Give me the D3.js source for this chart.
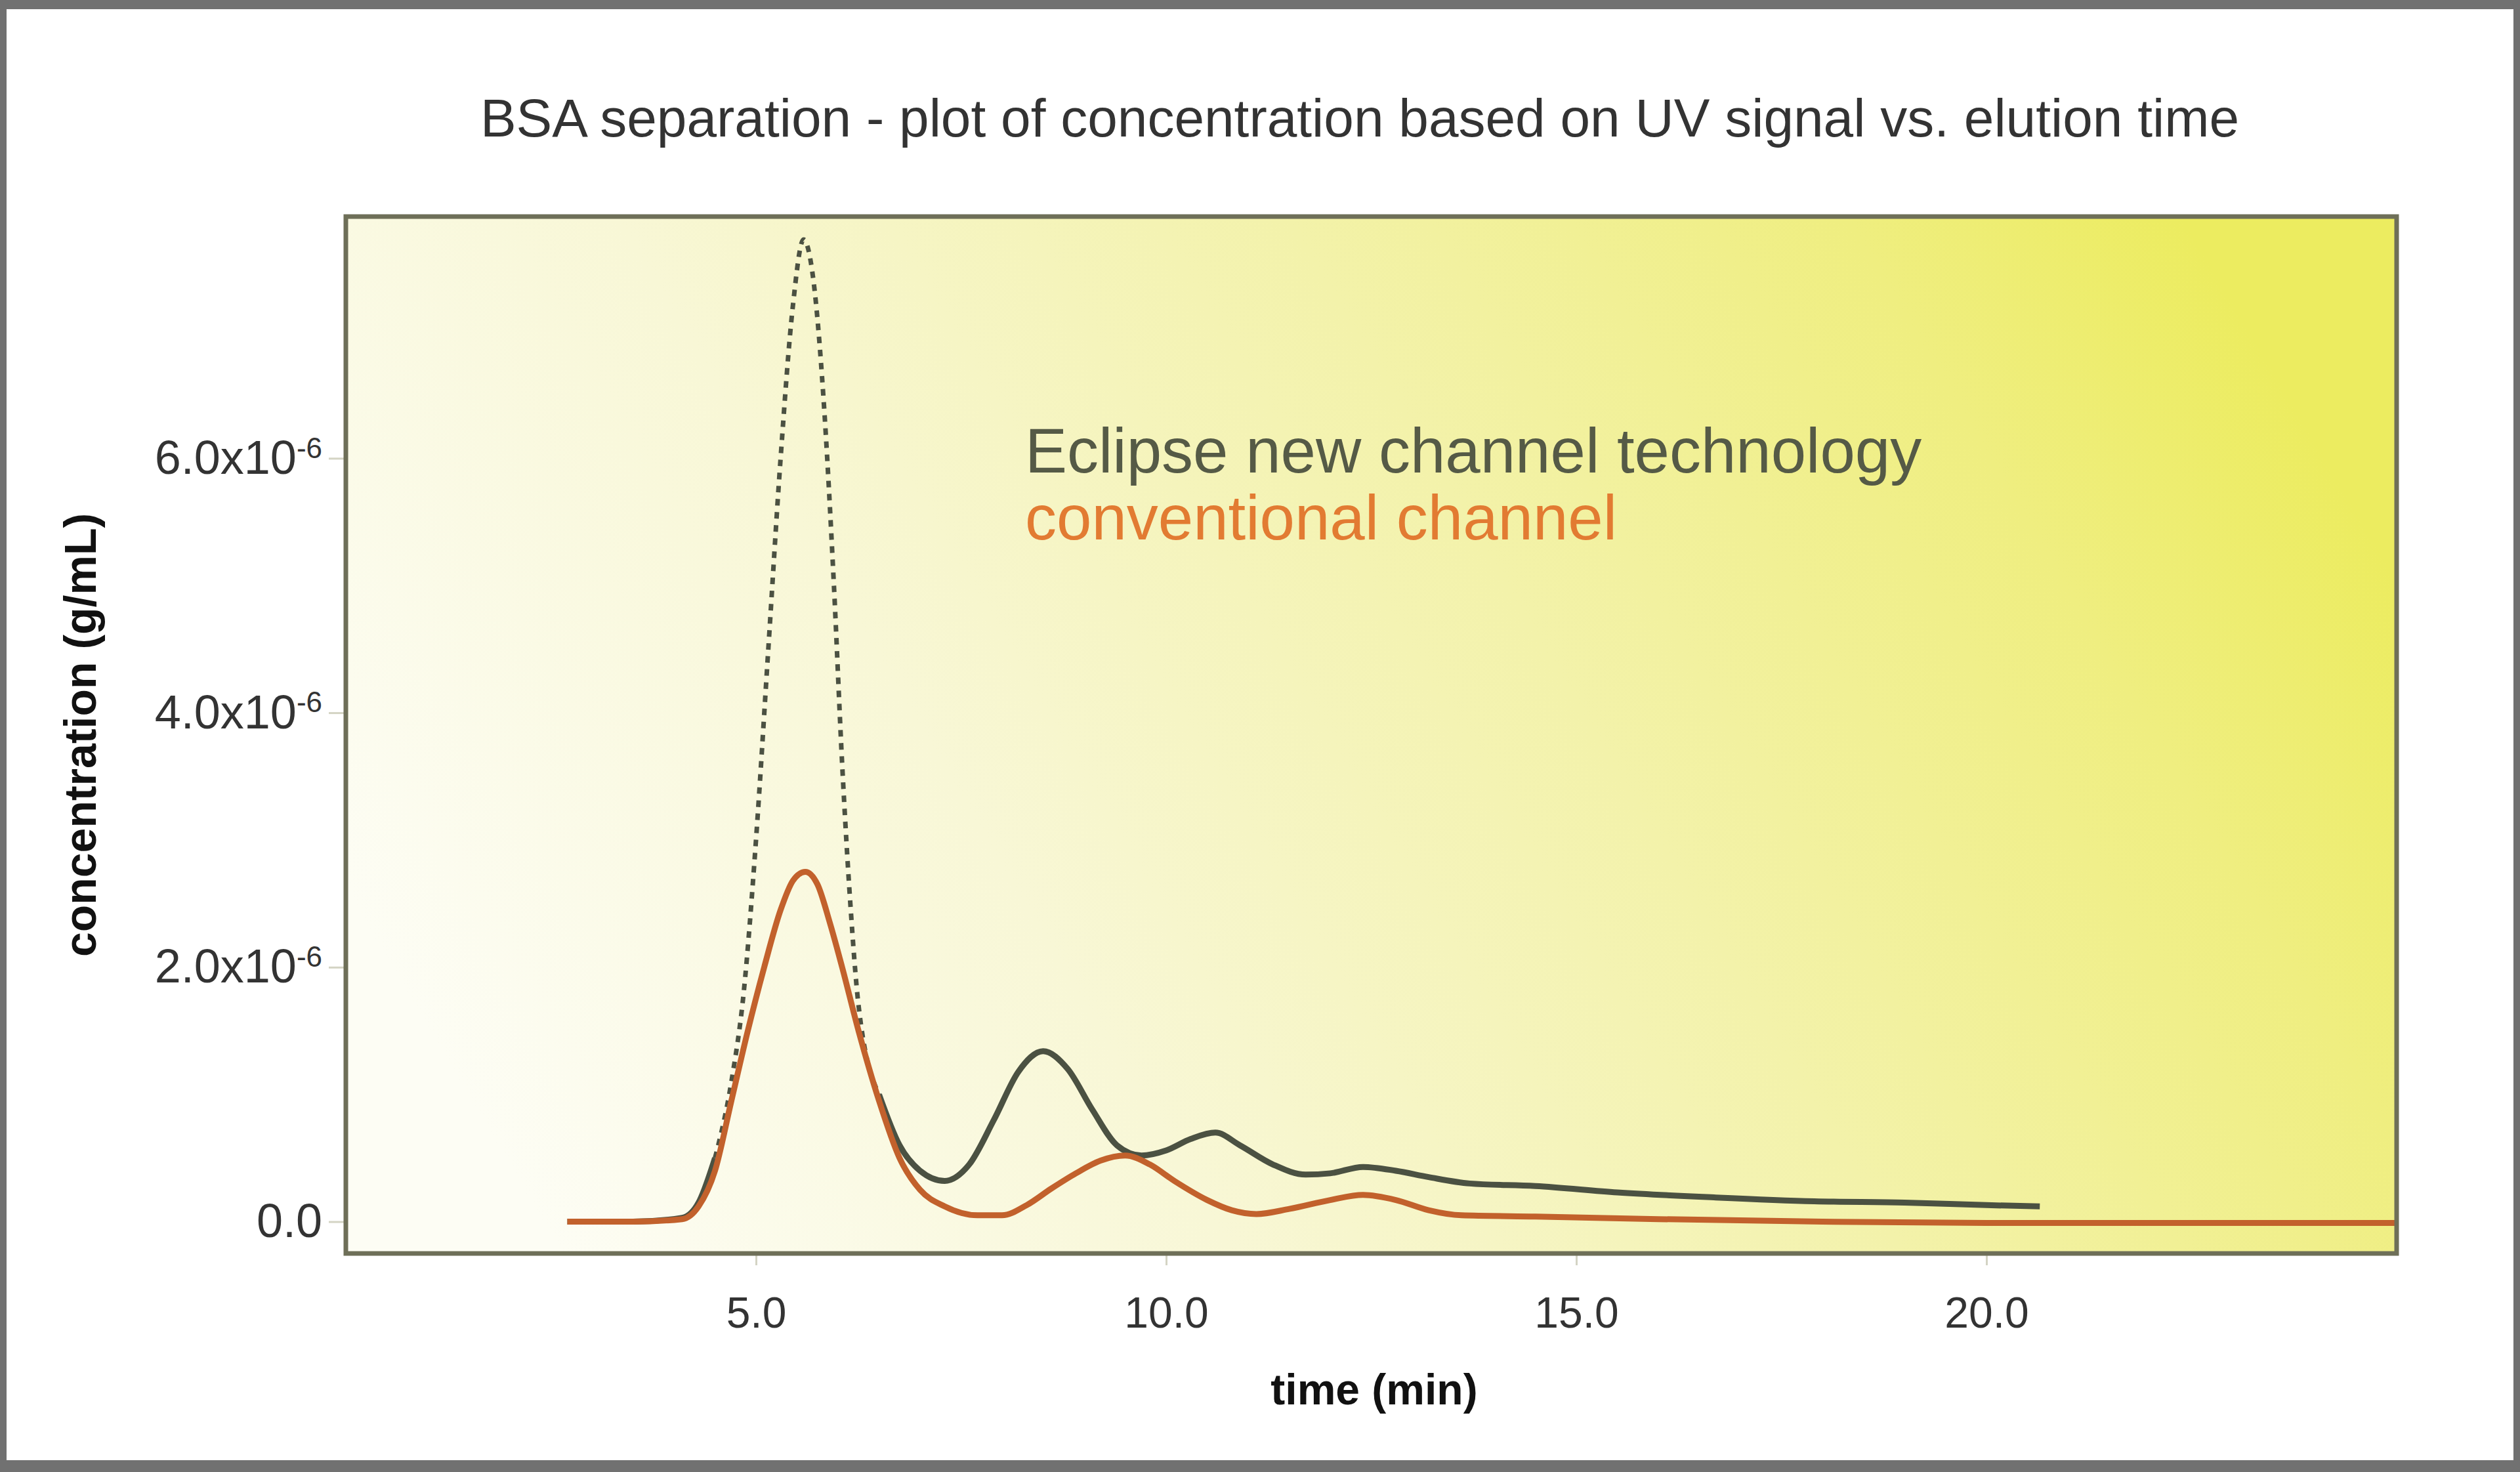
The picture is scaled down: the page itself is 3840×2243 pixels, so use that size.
<!DOCTYPE html>
<html>
<head>
<meta charset="utf-8">
<script src="https://cdnjs.cloudflare.com/ajax/libs/d3/7.8.5/d3.min.js"></script>
<style>
  html, body { margin: 0; padding: 0; background: #fff; }
  #chartCont { width: 3840px; height: 2243px; }
  text { font-family: "Liberation Sans", Arial, sans-serif; }
</style>
</head>
<body>
<div id="chartCont"></div>
<script>
// elution time (min) and concentration (g/mL)
let eclipseTime = [2.7, 3.5, 4.1, 4.3, 4.5, 4.7, 4.85, 5.0, 5.15, 5.3, 5.45, 5.58, 5.7, 5.82, 5.95, 6.05, 6.15, 6.25,
  6.5, 6.75, 7.0, 7.3, 7.6, 7.9, 8.2, 8.5, 8.8, 9.1, 9.4, 9.7, 10.0, 10.3, 10.6, 10.9, 11.3, 11.7, 12.0, 12.4,
  12.8, 13.2, 13.7, 14.5, 15.5, 16.7, 17.9, 19.0, 20.0, 20.65];
let eclipseConc = [0, 0, 0.03e-6, 0.15e-6, 0.5e-6, 1.1e-6, 1.8e-6, 3.0e-6, 4.5e-6, 6.0e-6, 7.2e-6, 7.72e-6, 7.4e-6, 6.5e-6, 5.0e-6, 3.6e-6, 2.5e-6, 1.7e-6,
  1.0e-6, 0.6e-6, 0.4e-6, 0.32e-6, 0.45e-6, 0.8e-6, 1.18e-6, 1.34e-6, 1.2e-6, 0.88e-6, 0.6e-6, 0.52e-6, 0.56e-6, 0.65e-6, 0.7e-6, 0.6e-6, 0.45e-6, 0.37e-6, 0.38e-6, 0.43e-6,
  0.4e-6, 0.35e-6, 0.3e-6, 0.28e-6, 0.23e-6, 0.19e-6, 0.16e-6, 0.15e-6, 0.13e-6, 0.12e-6];

let convTime = [2.7, 3.5, 4.1, 4.3, 4.5, 4.7, 4.9, 5.1, 5.3, 5.45, 5.6, 5.75, 5.9, 6.05, 6.25, 6.5, 6.75, 7.0, 7.3,
  7.7, 8.0, 8.3, 8.6, 8.9, 9.2, 9.5, 9.8, 10.1, 10.5, 10.8, 11.1, 11.5, 12.0, 12.4, 12.8, 13.2, 13.6, 14.5,
  16.0, 18.0, 20.0, 22.0, 25.0];
let convConc = [0, 0, 0.02e-6, 0.12e-6, 0.4e-6, 0.95e-6, 1.5e-6, 2.0e-6, 2.45e-6, 2.68e-6, 2.75e-6, 2.65e-6, 2.35e-6, 2.0e-6, 1.5e-6, 0.95e-6, 0.5e-6, 0.25e-6, 0.12e-6,
  0.05e-6, 0.05e-6, 0.13e-6, 0.26e-6, 0.38e-6, 0.48e-6, 0.52e-6, 0.45e-6, 0.32e-6, 0.17e-6, 0.09e-6, 0.06e-6, 0.1e-6, 0.17e-6, 0.21e-6, 0.17e-6, 0.09e-6, 0.05e-6, 0.04e-6,
  0.02e-6, 0, -0.01e-6, -0.01e-6, -0.01e-6];

// stretch of the eclipse peak that shows up dotted
let dottedFrom = 4.5, dottedTo = 6.5;

let xTicks = [5, 10, 15, 20];
let yTicks = [0, 2e-6, 4e-6, 6e-6];
let seriesNames = ["Eclipse new channel technology", "conventional channel"];

(function() {
  let width = 3840,
    height = 2243;

  let plot = {left: 527, right: 3652, top: 330, bottom: 1910};

  let svg = d3.select("#chartCont")
    .append("svg")
    .attr("width", width)
    .attr("height", height);

  let defs = svg.append("defs");

  // pale white to yellow wash behind the curves
  let grad = defs.append("linearGradient")
    .attr("id", "bgGrad")
    .attr("x1", "0").attr("y1", "0.65")
    .attr("x2", "1").attr("y2", "0.35");
  grad.append("stop").attr("offset", "0").attr("stop-color", "#fdfdf4");
  grad.append("stop").attr("offset", "0.3").attr("stop-color", "#f8f7d6");
  grad.append("stop").attr("offset", "0.6").attr("stop-color", "#f3f2aa");
  grad.append("stop").attr("offset", "0.85").attr("stop-color", "#efee80");
  grad.append("stop").attr("offset", "1").attr("stop-color", "#ecec60");

  defs.append("clipPath")
    .attr("id", "plotClip")
    .append("rect")
    .attr("x", plot.left)
    .attr("y", plot.top)
    .attr("width", plot.right - plot.left)
    .attr("height", plot.bottom - plot.top);

  let x = d3.scaleLinear().domain([0, 25]).range([plot.left, plot.right]);
  let y = d3.scaleLinear().domain([-0.25e-6, 7.9e-6]).range([plot.bottom, plot.top]);

  svg.append("rect")
    .attr("x", plot.left)
    .attr("y", plot.top)
    .attr("width", plot.right - plot.left)
    .attr("height", plot.bottom - plot.top)
    .attr("fill", "url(#bgGrad)");

  // title
  svg.append("text")
    .attr("x", 2072)
    .attr("y", 208)
    .attr("text-anchor", "middle")
    .attr("font-size", 82)
    .attr("fill", "#333")
    .text("BSA separation - plot of concentration based on UV signal vs. elution time");

  let line = d3.line()
    .x(function(d) { return x(d.t); })
    .y(function(d) { return y(d.c); })
    .curve(d3.curveMonotoneX);

  let eclipse = eclipseTime.map(function(t, i) { return {t: t, c: eclipseConc[i]}; });
  let conv = convTime.map(function(t, i) { return {t: t, c: convConc[i]}; });

  let curves = svg.append("g").attr("clip-path", "url(#plotClip)");

  // eclipse curve split in three so the tall peak can be dotted
  let eclipseParts = [
    {pts: eclipse.filter(function(d) { return d.t <= dottedFrom; }), dash: null},
    {pts: eclipse.filter(function(d) { return d.t >= dottedFrom && d.t <= dottedTo; }), dash: "10,10"},
    {pts: eclipse.filter(function(d) { return d.t >= dottedTo; }), dash: null}
  ];

  curves.selectAll(".eclipse")
    .data(eclipseParts)
    .enter().append("path")
    .attr("class", "eclipse")
    .attr("d", function(d) { return line(d.pts); })
    .attr("fill", "none")
    .attr("stroke", "#4b5142")
    .attr("stroke-width", function(d) { return d.dash ? 7 : 9; })
    .attr("stroke-dasharray", function(d) { return d.dash; })
    .attr("stroke-linejoin", "round");

  curves.append("path")
    .datum(conv)
    .attr("d", line)
    .attr("fill", "none")
    .attr("stroke", "#c2612c")
    .attr("stroke-width", 9)
    .attr("stroke-linejoin", "round");

  // axes
  let xAxis = svg.append("g")
    .attr("transform", "translate(0," + plot.bottom + ")")
    .call(d3.axisBottom(x)
      .tickValues(xTicks)
      .tickSize(18)
      .tickPadding(48)
      .tickFormat(d3.format(".1f")));

  xAxis.select(".domain").remove();
  xAxis.selectAll(".tick line").attr("stroke", "#d4d4c4").attr("stroke-width", 3);
  xAxis.selectAll(".tick text")
    .attr("font-size", 66)
    .attr("font-family", "Liberation Sans, Arial, sans-serif")
    .attr("fill", "#333");

  let yAxis = svg.append("g")
    .attr("transform", "translate(" + plot.left + ",0)")
    .call(d3.axisLeft(y)
      .tickValues(yTicks)
      .tickSize(26)
      .tickPadding(10)
      .tickFormat(""));

  yAxis.select(".domain").remove();
  yAxis.selectAll(".tick line").attr("stroke", "#d4d4c4").attr("stroke-width", 3);
  yAxis.selectAll(".tick text")
    .attr("font-size", 72)
    .attr("font-family", "Liberation Sans, Arial, sans-serif")
    .attr("fill", "#333")
    .each(function(d) {
      let t = d3.select(this);
      if (d === 0) {
        t.text("0.0");
        return;
      }
      let exp = Math.floor(Math.log10(d));
      t.append("tspan").text((d / Math.pow(10, exp)).toFixed(1) + "x10");
      t.append("tspan")
        .attr("font-size", 44)
        .attr("dy", "-0.55em")
        .text(exp);
    });

  // plot frame on top of everything inside
  svg.append("rect")
    .attr("x", plot.left)
    .attr("y", plot.top)
    .attr("width", plot.right - plot.left)
    .attr("height", plot.bottom - plot.top)
    .attr("fill", "none")
    .attr("stroke", "#6e6f58")
    .attr("stroke-width", 7);

  // axis titles
  svg.append("text")
    .attr("x", 2094)
    .attr("y", 2140)
    .attr("text-anchor", "middle")
    .attr("font-size", 66)
    .attr("font-weight", "bold")
    .attr("fill", "#111")
    .text("time (min)");

  svg.append("text")
    .attr("transform", "translate(146,1120) rotate(-90)")
    .attr("text-anchor", "middle")
    .attr("font-size", 68)
    .attr("font-weight", "bold")
    .attr("fill", "#111")
    .text("concentration (g/mL)");

  // legend as coloured text
  let legendColors = ["#555a46", "#e27b32"];
  svg.selectAll(".legend")
    .data(seriesNames)
    .enter().append("text")
    .attr("class", "legend")
    .attr("x", 1562)
    .attr("y", function(d, i) { return 720 + i * 102; })
    .attr("font-size", 96)
    .attr("fill", function(d, i) { return legendColors[i]; })
    .text(function(d) { return d; });

  // grey picture border
  let border = [
    {x: 0, y: 0, w: width, h: 14},
    {x: 0, y: height - 18, w: width, h: 18},
    {x: 0, y: 0, w: 10, h: height},
    {x: width - 10, y: 0, w: 10, h: height}
  ];
  svg.selectAll(".border")
    .data(border)
    .enter().append("rect")
    .attr("class", "border")
    .attr("x", function(d) { return d.x; })
    .attr("y", function(d) { return d.y; })
    .attr("width", function(d) { return d.w; })
    .attr("height", function(d) { return d.h; })
    .attr("fill", "#717171");
})();
</script>
</body>
</html>
